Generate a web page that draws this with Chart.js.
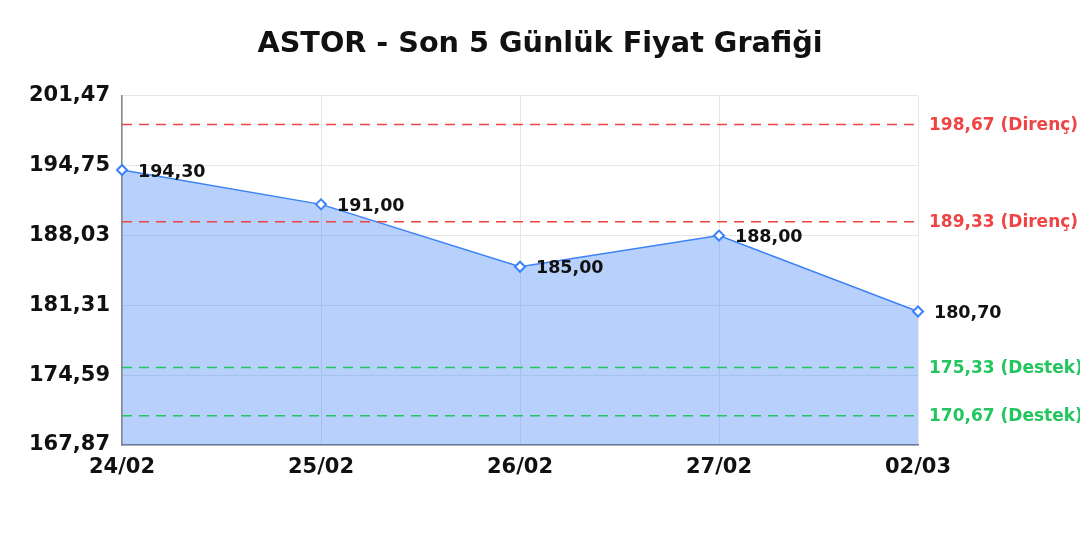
<!DOCTYPE html>
<html>
<head>
<meta charset="utf-8">
<script src="https://cdn.jsdelivr.net/npm/chart.js@4/dist/chart.umd.min.js"></script>
<style>
  html, body { margin: 0; padding: 0; background: #fff; }
  #wrap { width: 1080px; height: 540px; }
</style>
</head>
<body>
<div id="wrap"><canvas id="chart" width="1080" height="540"></canvas></div>
<script>
// Chart data
const dates = ["24/02", "25/02", "26/02", "27/02", "02/03"];
const prices = [194.30, 191.00, 185.00, 188.00, 180.70];
const yTicks = [167.87, 174.59, 181.31, 188.03, 194.75, 201.47];
const resistanceLevels = [198.67, 189.33];
const supportLevels = [175.33, 170.67];

const FONT = "'DejaVu Sans', sans-serif";

// Turkish style number: comma for decimals
function fmt(v) {
  return v.toFixed(2).replace(".", ",");
}

// Draws the dashed support / resistance lines and their labels on the right
const levelLinesPlugin = {
  id: "levelLines",
  afterDatasetsDraw(chart) {
    const ctx = chart.ctx;
    const area = chart.chartArea;
    const y = chart.scales.y;
    const levels = [
      ...resistanceLevels.map(v => ({ v, color: "#ef4444", text: "Direnç" })),
      ...supportLevels.map(v => ({ v, color: "#22c55e", text: "Destek" })),
    ];
    ctx.save();
    levels.forEach(l => {
      const py = y.getPixelForValue(l.v);
      ctx.strokeStyle = l.color;
      ctx.lineWidth = 1.5;
      ctx.setLineDash([10, 7]);
      ctx.beginPath();
      ctx.moveTo(area.left, py);
      ctx.lineTo(area.right, py);
      ctx.stroke();
      ctx.setLineDash([]);
      ctx.fillStyle = l.color;
      ctx.font = "bold 17px " + FONT;
      ctx.textAlign = "left";
      ctx.textBaseline = "middle";
      ctx.fillText(fmt(l.v) + " (" + l.text + ")", area.right + 11, py + 1);
    });
    ctx.restore();
  }
};

// Value labels next to each point
const pointLabelsPlugin = {
  id: "pointLabels",
  afterDatasetsDraw(chart) {
    const ctx = chart.ctx;
    const meta = chart.getDatasetMeta(0);
    ctx.save();
    ctx.fillStyle = "#111";
    ctx.font = "bold 17.5px " + FONT;
    ctx.textAlign = "left";
    ctx.textBaseline = "middle";
    meta.data.forEach((pt, i) => {
      ctx.fillText(fmt(prices[i]), pt.x + 16, pt.y + 2);
    });
    ctx.restore();
  }
};

new Chart(document.getElementById("chart").getContext("2d"), {
  type: "line",
  data: {
    labels: dates,
    datasets: [{
      data: prices,
      borderColor: "#3b82f6",
      borderWidth: 1.5,
      backgroundColor: "rgba(59,130,246,0.37)",
      fill: "start",
      tension: 0,
      pointStyle: "rectRot",
      pointRadius: 5,
      pointBorderWidth: 2,
      pointBackgroundColor: "#fff",
      pointBorderColor: "#3b82f6",
    }],
  },
  options: {
    responsive: false,
    animation: false,
    layout: { padding: { top: 14, left: 0, right: 0, bottom: 0 } },
    plugins: {
      legend: { display: false },
      tooltip: { enabled: false },
      title: {
        display: true,
        text: "ASTOR - Son 5 Günlük Fiyat Grafiği",
        color: "#111",
        font: { family: FONT, size: 28.7, weight: "bold" },
        padding: { top: 13, bottom: 34 },
      },
    },
    scales: {
      x: {
        offset: false,
        grid: { color: "#e6e6e6", drawTicks: false },
        border: { color: "#777", width: 1.5 },
        ticks: {
          color: "#111",
          padding: 10,
          maxRotation: 0,
          font: { family: FONT, size: 21, weight: "bold" },
        },
        afterFit(scale) { scale.height = 95; },
      },
      y: {
        min: yTicks[0],
        max: yTicks[yTicks.length - 1],
        grid: { color: "#e6e6e6", drawTicks: false },
        border: { color: "#888", width: 1.5 },
        afterBuildTicks(scale) {
          scale.ticks = yTicks.map(v => ({ value: v }));
        },
        ticks: {
          color: "#111",
          padding: 12,
          font: { family: FONT, size: 21, weight: "bold" },
          callback: v => fmt(v),
        },
        afterFit(scale) { scale.width = 122; },
      },
      yRight: {
        position: "right",
        display: true,
        grid: { display: false },
        border: { display: false },
        ticks: { display: false },
        afterFit(scale) { scale.width = 162; },
      },
    },
  },
  plugins: [levelLinesPlugin, pointLabelsPlugin],
});
</script>
</body>
</html>
